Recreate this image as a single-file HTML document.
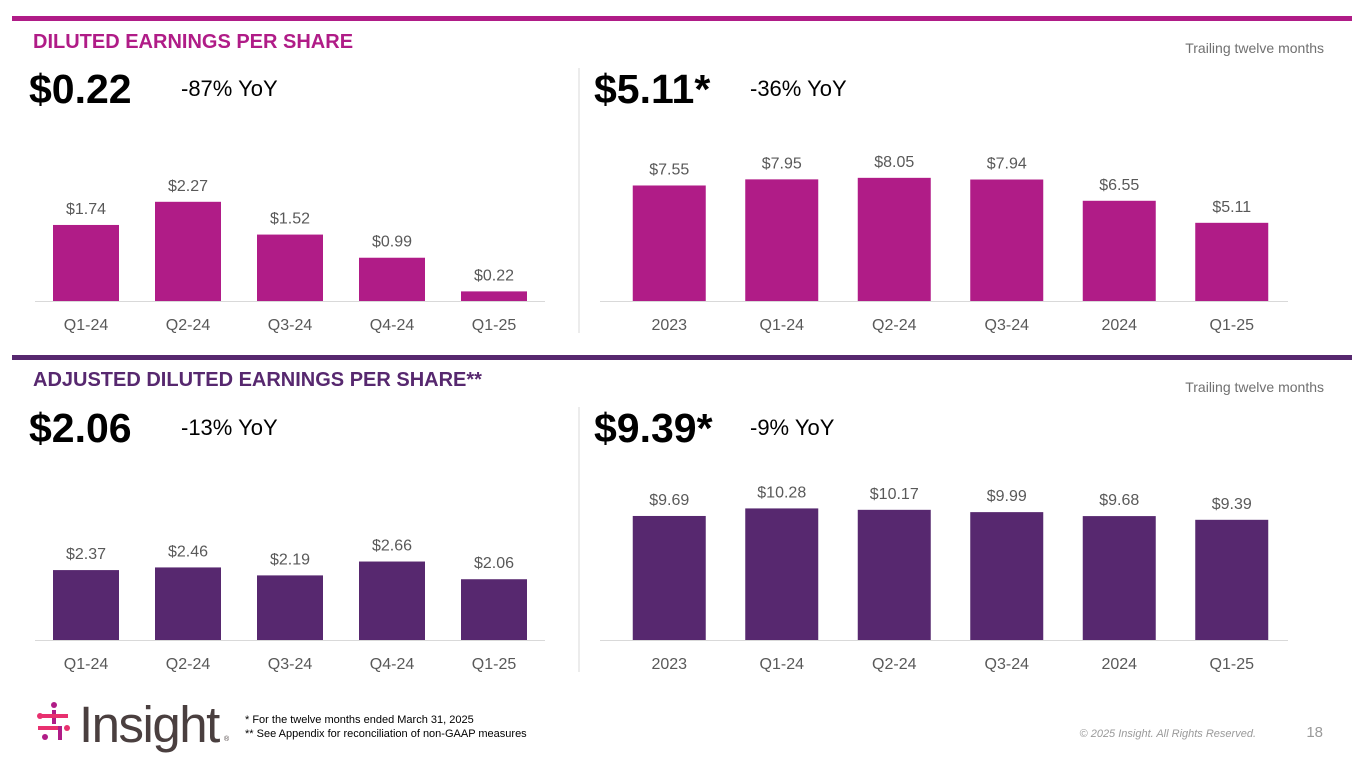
<!DOCTYPE html>
<html><head><meta charset="utf-8">
<style>
html,body{margin:0;padding:0;background:#fff;}
svg{display:block;font-family:"Liberation Sans",Arial,sans-serif;}
</style></head>
<body>
<svg id="s" width="1365" height="768" viewBox="0 0 1365 768" xmlns="http://www.w3.org/2000/svg">
<rect x="12" y="16" width="1340" height="5" fill="#B01C87"/>
<rect x="12" y="355" width="1340" height="5" fill="#57286F"/>
<text x="33" y="48" font-size="20" font-weight="bold" fill="#B01C87">DILUTED EARNINGS PER SHARE</text>
<text x="33" y="386" font-size="20" font-weight="bold" fill="#57286F">ADJUSTED DILUTED EARNINGS PER SHARE**</text>
<text x="1324" y="53" font-size="14" fill="#707070" text-anchor="end">Trailing twelve months</text>
<text x="1324" y="392" font-size="14" fill="#707070" text-anchor="end">Trailing twelve months</text>
<text x="29" y="103" font-size="41" font-weight="bold" fill="#000">$0.22</text>
<text x="181" y="96" font-size="22" fill="#000">-87% YoY</text>
<text x="594" y="103" font-size="41" font-weight="bold" fill="#000">$5.11*</text>
<text x="750" y="96" font-size="22" fill="#000">-36% YoY</text>
<text x="29" y="442" font-size="41" font-weight="bold" fill="#000">$2.06</text>
<text x="181" y="435" font-size="22" fill="#000">-13% YoY</text>
<text x="594" y="442" font-size="41" font-weight="bold" fill="#000">$9.39*</text>
<text x="750" y="435" font-size="22" fill="#000">-9% YoY</text>
<line x1="579" y1="68" x2="579" y2="333" stroke="#d9d9d9" stroke-width="1"/>
<line x1="579" y1="407" x2="579" y2="672" stroke="#d9d9d9" stroke-width="1"/>
<g>
  <rect x="38" y="714" width="10" height="4" fill="#E8306F"/>
  <rect x="52" y="710" width="4" height="14" fill="#B01C87"/>
  <rect x="44" y="714" width="24" height="4" fill="#E8306F"/>
  <circle cx="40" cy="716" r="3" fill="#E8306F"/>
  <circle cx="54" cy="705" r="3" fill="#B01C87"/>
  <rect x="38" y="726" width="24" height="4" fill="#E8306F"/>
  <rect x="58" y="726" width="4" height="14" fill="#B01C87"/>
  <circle cx="45" cy="737" r="3" fill="#B01C87"/>
  <circle cx="67" cy="728" r="3" fill="#E8306F"/>
  <text x="79" y="742" font-size="51" fill="#4a3f3f" letter-spacing="-1.5">Insight</text>
  <text x="224" y="741" font-size="7" fill="#4a3f3f">®</text>
</g>
<text x="245" y="723" font-size="11" fill="#000">* For the twelve months ended March 31, 2025</text>
<text x="245" y="737" font-size="11" fill="#000">** See Appendix for reconciliation of non-GAAP measures</text>
<text x="1256" y="737" font-size="11" font-style="italic" fill="#9a9a9a" text-anchor="end">© 2025 Insight. All Rights Reserved.</text>
<text x="1323" y="737" font-size="15" fill="#9a9a9a" text-anchor="end">18</text>
<g id="charts"></g>
</svg>
<script>
const quarterCats = ["Q1-24","Q2-24","Q3-24","Q4-24","Q1-25"];
const ttmCats = ["2023","Q1-24","Q2-24","Q3-24","2024","Q1-25"];
const dilutedQuarterVals = [1.74,2.27,1.52,0.99,0.22];
const dilutedTtmVals = [7.55,7.95,8.05,7.94,6.55,5.11];
const adjustedQuarterVals = [2.37,2.46,2.19,2.66,2.06];
const adjustedTtmVals = [9.69,10.28,10.17,9.99,9.68,9.39];

const NS="http://www.w3.org/2000/svg";
const root=document.getElementById('charts');
function mk(tag,attrs,parent){const e=document.createElementNS(NS,tag);for(const k in attrs)e.setAttribute(k,attrs[k]);parent.appendChild(e);return e;}
function chart(name,cats,vals,x0,x1,ax0,ax1,base,scale,color,barW){
  const g=mk('g',{},root);
  
  
  const step=(x1-x0)/cats.length;
  const xs=i=>x0+step*(i+0.5);
  const ys=v=>base-v*scale;
  cats.forEach((c,i)=>{
    const top=ys(vals[i]);
    const r=mk('rect',{x:xs(i)-barW/2,y:top,width:barW,height:base-top,fill:color},g);
    
    
    const t=mk('text',{x:xs(i),y:top-11,'font-size':16,fill:'#595959','text-anchor':'middle'},g);
    t.textContent='$'+vals[i].toFixed(2);
    
    
    const l=mk('text',{x:xs(i),y:base+29,'font-size':16,fill:'#595959','text-anchor':'middle'},g);
    l.textContent=c;
    
    
  });
  const ax=mk('line',{x1:ax0,y1:base+0.5,x2:ax1,y2:base+0.5,stroke:'#d9d9d9','stroke-width':1},g);
  
  
}
chart('diluted-quarterly-chart',quarterCats,dilutedQuarterVals,35,545,35,545,301,43.7,'#B01C87',66);
chart('diluted-ttm-chart',ttmCats,dilutedTtmVals,613,1288,600,1288,301,15.3,'#B01C87',73);
chart('adjusted-quarterly-chart',quarterCats,adjustedQuarterVals,35,545,35,545,640,29.5,'#57286F',66);
chart('adjusted-ttm-chart',ttmCats,adjustedTtmVals,613,1288,600,1288,640,12.8,'#57286F',73);
</script>
</body></html>
